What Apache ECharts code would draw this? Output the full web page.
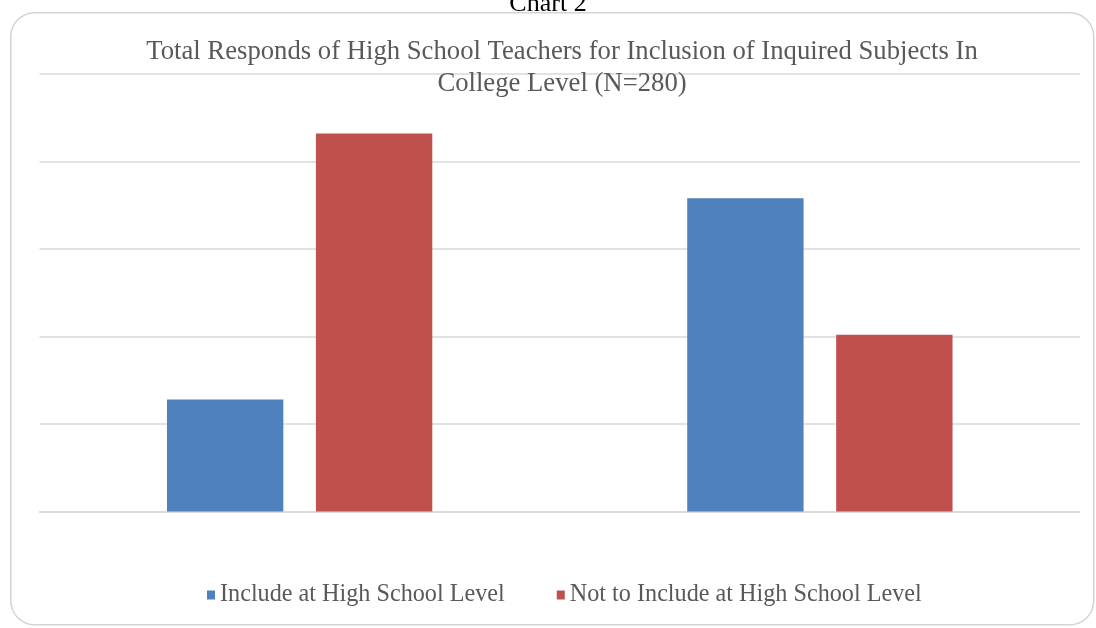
<!DOCTYPE html>
<html><head><meta charset="utf-8">
<script src="https://cdn.jsdelivr.net/npm/echarts@6/dist/echarts.min.js"></script>
<style>html,body{margin:0;padding:0;background:#fff}#c{width:1096px;height:628px}</style>
</head><body><div id="c"></div>
<script>
const categories = ["Group 1", "Group 2"];
const includeValues = [64, 179];
const notIncludeValues = [216, 101];
const seriesNames = ["Include at High School Level", "Not to Include at High School Level"];
const yTicks = [0, 50, 100, 150, 200, 250];

const chart = echarts.init(document.getElementById('c'));
const serif = '"Liberation Serif", "DejaVu Serif", serif';
chart.setOption({
  animation: false,
  backgroundColor: '#fff',
  graphic: [{
    type: 'rect', left: 10, top: 12, z: -1,
    shape: { width: 1083, height: 612, r: 24 },
    style: { fill: '#fff', stroke: '#d4d4d4', lineWidth: 1.5 }
  }],
  title: [{
    text: 'Chart 2', left: 'center', top: -14,
    textStyle: { fontFamily: serif, fontSize: 26, fontWeight: 'normal', color: '#000' }
  }, {
    text: 'Total Responds of High School Teachers for Inclusion of Inquired Subjects In\nCollege Level (N=280)',
    left: 557, textAlign: 'center', top: 31,
    textStyle: { fontFamily: serif, fontSize: 26.7, fontWeight: 'normal', color: '#595959', lineHeight: 32 }
  }],
  legend: {
    top: 578, left: 202, itemWidth: 8, itemHeight: 9, itemGap: 52, icon: 'rect',
    textStyle: { fontFamily: serif, fontSize: 24.2, color: '#595959' },
    data: seriesNames
  },
  grid: { left: 39.5, right: 16, top: 74, bottom: 116.5, containLabel: false },
  xAxis: {
    type: 'category', data: categories,
    axisLine: { show: true, lineStyle: { color: '#d9d9d9', width: 1.5 } },
    axisTick: { show: false }, axisLabel: { show: false }
  },
  yAxis: {
    type: 'value', min: yTicks[0], max: yTicks[yTicks.length - 1], interval: 50,
    axisLabel: { show: false }, axisLine: { show: false }, axisTick: { show: false },
    splitLine: { lineStyle: { color: '#d9d9d9', width: 1.5 } }
  },
  series: [{
    name: seriesNames[0], type: 'bar', data: includeValues,
    barGap: '28%', barCategoryGap: '49%',
    itemStyle: { color: '#4F81BD' }
  }, {
    name: seriesNames[1], type: 'bar', data: notIncludeValues,
    itemStyle: { color: '#C0504D' }
  }]
});
</script></body></html>
